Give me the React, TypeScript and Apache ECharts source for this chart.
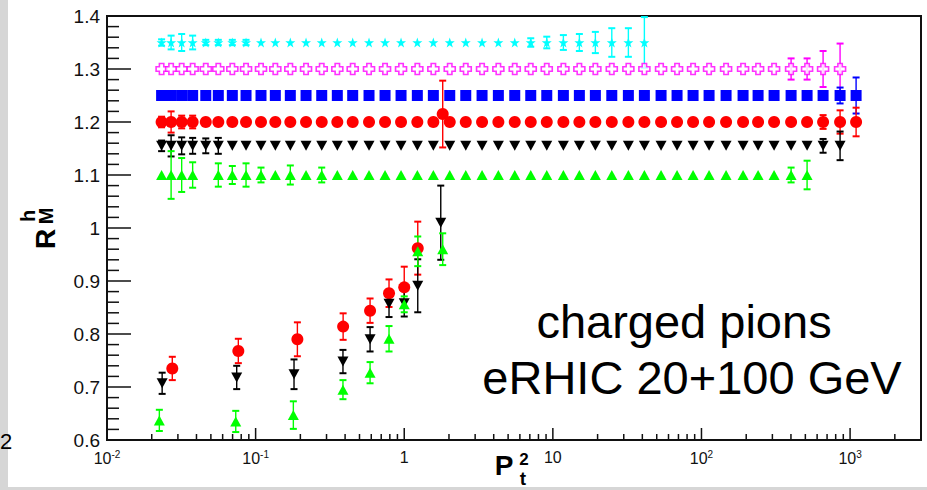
import React, { useEffect, useRef } from 'react';
import * as echarts from 'echarts';

// ---------------- data ----------------
// common P_t^2 bins of the offset (displaced) rows
const GRID_X = [
  0.0233, 0.0270, 0.0318, 0.0377, 0.0462, 0.0561, 0.0697, 0.0862, 0.1087, 0.1357,
  0.1712, 0.2184, 0.2785, 0.3546, 0.450, 0.5795, 0.7428, 0.9517, 1.225, 1.570,
  2.024, 2.594, 3.339, 4.299, 5.541, 7.10, 9.10, 11.77, 15.08, 19.32,
  24.92, 32.22, 41.29, 53.47, 68.5, 87.8, 112.5, 146.4, 190.5, 240.4,
  308.0, 400.9, 513.6, 658.1, 856.3, 1097.5,
];

// row levels (each row displaced for display)
const CYAN_LEVEL = 1.35;
const MAGENTA_LEVEL = 1.3;
const BLUE_LEVEL = 1.25;
const RED_LEVEL = 1.2;
const BLACK_LEVEL = 1.155;
const GREEN_LEVEL = 1.1;

// errors per bin (null = no point)
const CYAN_ERR = [
  0.006, 0.013, 0.016, 0.013, 0.005, 0.005, 0.005, 0.005, 0, 0,
  0, 0, 0, 0, 0, 0, 0, 0, 0, 0,
  0, 0, 0, 0, 0, 0.008, 0.011, 0.014, 0.016, 0.02,
  0.027, 0.027, 0.048, null, null, null, null, null, null, null,
  null, null, null, null, null, null,
];
const MAGENTA_ERR = [
  0, 0, 0, 0, 0, 0, 0, 0, 0, 0,
  0, 0, 0, 0, 0, 0, 0, 0, 0, 0,
  0, 0, 0, 0, 0, 0, 0, 0, 0, 0,
  0, 0, 0, 0, 0, 0, 0, 0, 0, 0,
  0, 0.02, 0.02, 0.034, 0.048, null,
];
const BLUE_ERR = [
  0, 0, 0, 0, 0, 0, 0, 0, 0, 0,
  0, 0, 0, 0, 0, 0, 0, 0, 0, 0,
  0, 0, 0, 0, 0, 0, 0, 0, 0, 0,
  0, 0, 0, 0, 0, 0, 0, 0, 0, 0,
  0, 0, 0, 0, 0.015, 0.034,
];
const RED_ERR = [
  0.01, 0.02, 0.012, 0.012, 0, 0, 0, 0, 0, 0,
  0, 0, 0, 0, 0, 0, 0, 0, 0, 0,
  0, 0, 0, 0, 0, 0, 0, 0, 0, 0,
  0, 0, 0, 0, 0, 0, 0, 0, 0, 0,
  0, 0, 0, 0.013, 0.022, 0.027,
];
const BLACK_ERR = [
  0.01, 0.02, 0.016, 0.015, 0.014, 0.015, 0, 0, 0, 0,
  0, 0, 0, 0, 0, 0, 0, 0, 0, 0,
  0, 0, 0, 0, 0, 0, 0, 0, 0, 0,
  0, 0, 0, 0, 0, 0, 0, 0, 0, 0,
  0, 0, 0, 0.013, 0.027, null,
];
const GREEN_ERR = [
  0, 0.045, 0.032, 0.024, null, 0.022, 0.017, 0.022, 0.014, 0,
  0.018, 0, 0.014, 0, 0, 0, 0, 0, 0, 0,
  0, 0, 0, 0, 0, 0, 0, 0, 0, 0,
  0, 0, 0, 0, 0, 0, 0, 0, 0, 0,
  0, 0.014, 0.027, null, null, null,
];

// un-displaced points (lower part)
const LOW_RED_X = [0.0275, 0.0765, 0.191, 0.388, 0.589, 0.79, 1.0, 1.233, 1.815];
const LOW_RED_Y = [0.735, 0.768, 0.790, 0.814, 0.844, 0.877, 0.888, 0.962, 1.215];
const LOW_RED_ERR = [0.022, 0.023, 0.032, 0.025, 0.023, 0.026, 0.039, 0.05, 0.063];
const LOW_BLACK_X = [0.0235, 0.0746, 0.1813, 0.387, 0.589, 0.79, 1.0, 1.233, 1.761];
const LOW_BLACK_Y = [0.707, 0.718, 0.724, 0.748, 0.790, 0.857, 0.858, 0.891, 1.010];
const LOW_BLACK_ERR = [0.02, 0.022, 0.028, 0.022, 0.023, 0.025, 0.025, 0.05, 0.07];
const LOW_GREEN_X = [0.0225, 0.0735, 0.1794, 0.387, 0.589, 0.79, 1.0, 1.233, 1.815];
const LOW_GREEN_Y = [0.637, 0.635, 0.647, 0.695, 0.727, 0.791, 0.856, 0.956, 0.960];
const LOW_GREEN_ERR = [0.02, 0.02, 0.026, 0.018, 0.02, 0.024, 0.015, 0.028, 0.03];

// axis
const X_MIN = 0.01;
const X_MAX = 3000;
const Y_MIN = 0.6;
const Y_MAX = 1.4;
const Y_STEP = 0.1;
const X_MAJOR_TICKS = [0.01, 0.1, 1, 10, 100, 1000];
const X_MINOR_TICKS = [
  0.02, 0.03, 0.04, 0.05, 0.06, 0.07, 0.08, 0.09,
  0.2, 0.3, 0.4, 0.5, 0.6, 0.7, 0.8, 0.9,
  2, 3, 4, 5, 6, 7, 8, 9,
  20, 30, 40, 50, 60, 70, 80, 90,
  200, 300, 400, 500, 600, 700, 800, 900,
  2000,
];
const Y_MAJOR_TICKS = [0.6, 0.7, 0.8, 0.9, 1.0, 1.1, 1.2, 1.3, 1.4];
const Y_MINOR_TICKS = [
  0.62, 0.64, 0.66, 0.68, 0.72, 0.74, 0.76, 0.78,
  0.82, 0.84, 0.86, 0.88, 0.92, 0.94, 0.96, 0.98,
  1.02, 1.04, 1.06, 1.08, 1.12, 1.14, 1.16, 1.18,
  1.22, 1.24, 1.26, 1.28, 1.32, 1.34, 1.36, 1.38,
];

const FONT = '"Liberation Sans", Arial, Helvetica, sans-serif';

const COLORS = {
  cyan: '#00ffff',
  magenta: '#ff00ff',
  blue: '#0000ff',
  red: '#ff0000',
  black: '#000000',
  green: '#00ff00',
};

const STAR = 'path://M50,0 L61.8,35.3 L97.6,35.3 L68.5,57.1 L79.4,92.7 L50,70.9 L20.6,92.7 L31.5,57.1 L2.4,35.3 L38.2,35.3 Z';
const CROSS = 'path://M3,0 L7,0 L7,3 L10,3 L10,7 L7,7 L7,10 L3,10 L3,7 L0,7 L0,3 L3,3 Z';
const TRI_DOWN = 'path://M0,0 L10,0 L5,9 Z';
const TRI_UP = 'path://M5,0 L10,9 L0,9 Z';

function rowPoints(level: number, errs: (number | null)[]) {
  const out: number[][] = [];
  GRID_X.forEach((x, i) => {
    const e = errs[i];
    if (e === null || e === undefined) return;
    out.push([x, level, e]);
  });
  return out;
}

function lowPoints(xs: number[], ys: number[], es: number[]) {
  return xs.map((x, i) => [x, ys[i], es[i]]);
}

function errSeries(data: number[][], color: string) {
  return {
    type: 'custom',
    data,
    encode: { x: 0, y: 1 },
    z: 2,
    silent: true,
    clip: true,
    renderItem: (params: any, api: any) => {
      const x = api.value(0);
      const y = api.value(1);
      const e = api.value(2);
      if (!(e > 0)) return { type: 'group', children: [] };
      const top = api.coord([x, y + e]);
      const bot = api.coord([x, y - e]);
      const cw = 3.5;
      const st = { stroke: color, lineWidth: 1.4 };
      const cs = { stroke: color, lineWidth: 2 };
      return {
        type: 'group',
        children: [
          { type: 'line', shape: { x1: top[0], y1: top[1], x2: bot[0], y2: bot[1] }, style: st },
          { type: 'line', shape: { x1: top[0] - cw, y1: top[1], x2: top[0] + cw, y2: top[1] }, style: cs },
          { type: 'line', shape: { x1: bot[0] - cw, y1: bot[1], x2: bot[0] + cw, y2: bot[1] }, style: cs },
        ],
      };
    },
  };
}

function markerSeries(data: number[][], symbol: string, size: any, color: string, extra: any = {}) {
  return {
    type: 'scatter',
    data: data.map((d) => [d[0], d[1]]),
    symbol,
    symbolSize: size,
    itemStyle: { color, opacity: 1 },
    z: 3,
    silent: true,
    ...extra,
  };
}

export default function App() {
  const ref = useRef<HTMLDivElement>(null);

  useEffect(() => {
    if (!ref.current) return;
    const chart = echarts.init(ref.current, null, { renderer: 'svg' });

    const cyan = rowPoints(CYAN_LEVEL, CYAN_ERR);
    const magenta = rowPoints(MAGENTA_LEVEL, MAGENTA_ERR);
    const blue = rowPoints(BLUE_LEVEL, BLUE_ERR);
    const red = rowPoints(RED_LEVEL, RED_ERR);
    const black = rowPoints(BLACK_LEVEL, BLACK_ERR);
    const green = rowPoints(GREEN_LEVEL, GREEN_ERR);
    const lowRed = lowPoints(LOW_RED_X, LOW_RED_Y, LOW_RED_ERR);
    const lowBlack = lowPoints(LOW_BLACK_X, LOW_BLACK_Y, LOW_BLACK_ERR);
    const lowGreen = lowPoints(LOW_GREEN_X, LOW_GREEN_Y, LOW_GREEN_ERR);

    const textGraphics: any[] = [
      {
        type: 'text',
        x: 684,
        y: 321,
        style: { text: 'charged pions', fill: '#000000', font: '47px ' + FONT, align: 'center', verticalAlign: 'middle' },
      },
      {
        type: 'text',
        x: 692,
        y: 377,
        style: { text: 'eRHIC 20+100 GeV', fill: '#000000', font: '47px ' + FONT, align: 'center', verticalAlign: 'middle' },
      },
      // x-axis title  P_t^2
      {
        type: 'text',
        x: 504,
        y: 465,
        style: { text: 'P', fill: '#000000', font: 'bold 28px ' + FONT, align: 'center', verticalAlign: 'middle' },
      },
      {
        type: 'text',
        x: 524,
        y: 459,
        style: { text: '2', fill: '#000000', font: 'bold 17px ' + FONT, align: 'center', verticalAlign: 'middle' },
      },
      {
        type: 'text',
        x: 523,
        y: 478,
        style: { text: 't', fill: '#000000', font: 'bold 19px ' + FONT, align: 'center', verticalAlign: 'middle' },
      },
      // y-axis title  R_M^h (rotated)
      {
        type: 'text',
        x: 45,
        y: 239,
        rotation: Math.PI / 2,
        style: { text: 'R', fill: '#000000', font: 'bold 28px ' + FONT, align: 'center', verticalAlign: 'middle' },
      },
      {
        type: 'text',
        x: 28,
        y: 216,
        rotation: Math.PI / 2,
        style: { text: 'h', fill: '#000000', font: 'bold 20px ' + FONT, align: 'center', verticalAlign: 'middle' },
      },
      {
        type: 'text',
        x: 46,
        y: 216,
        rotation: Math.PI / 2,
        style: { text: 'M', fill: '#000000', font: 'bold 20px ' + FONT, align: 'center', verticalAlign: 'middle' },
      },
      // stray glyph at the slide edge
      {
        type: 'text',
        x: 0,
        y: 441,
        style: { text: '2', fill: '#000000', font: '22px ' + FONT, align: 'left', verticalAlign: 'middle' },
      },
    ];

    const option: any = {
      animation: false,
      backgroundColor: 'transparent',
      grid: {
        left: 107,
        right: 6,
        top: 16,
        bottom: 50,
        show: true,
        backgroundColor: 'transparent',
        borderColor: '#111111',
        borderWidth: 2,
      },
      xAxis: {
        type: 'log',
        logBase: 10,
        min: X_MIN,
        max: X_MAX,
        axisLine: { show: true, onZero: false, lineStyle: { color: '#111111', width: 2 } },
        axisTick: { show: false },
        minorTick: { show: false },
        splitLine: { show: false },
        axisLabel: {
          show: true,
          margin: 9,
          showMinLabel: true,
          showMaxLabel: false,
          color: '#111111',
          fontFamily: FONT,
          fontSize: 16,
          formatter: (v: number) => {
            const e = Math.round(Math.log10(v));
            if (e === 0) return '1';
            if (e === 1) return '10';
            return '{b|10}{s|' + e + '}';
          },
          rich: {
            b: { fontFamily: FONT, fontSize: 16, color: '#111111' },
            s: { fontFamily: FONT, fontSize: 10, color: '#111111', padding: [0, 0, 9, 0] },
          },
        },
      },
      yAxis: {
        type: 'value',
        min: Y_MIN,
        max: Y_MAX,
        interval: Y_STEP,
        axisLine: { show: true, onZero: false, lineStyle: { color: '#111111', width: 2 } },
        axisTick: { show: false },
        minorTick: { show: false },
        splitLine: { show: false },
        axisLabel: {
          margin: 7,
          color: '#111111',
          fontFamily: FONT,
          fontSize: 19,
        },
      },
      series: [
        errSeries(cyan, COLORS.cyan),
        markerSeries(cyan, STAR, 10, COLORS.cyan),
        errSeries(magenta, COLORS.magenta),
        markerSeries(magenta, CROSS, 11, '#ffffff', {
          itemStyle: { color: '#ffffff', borderColor: COLORS.magenta, borderWidth: 1.6 },
        }),
        errSeries(blue, COLORS.blue),
        markerSeries(blue, 'rect', 11, COLORS.blue),
        errSeries(red, COLORS.red),
        markerSeries(red, 'circle', 12, COLORS.red),
        errSeries(black, COLORS.black),
        markerSeries(black, TRI_DOWN, [11, 10], COLORS.black),
        errSeries(green, COLORS.green),
        markerSeries(green, TRI_UP, [11, 10], COLORS.green),
        errSeries(lowRed, COLORS.red),
        markerSeries(lowRed, 'circle', 12, COLORS.red),
        errSeries(lowBlack, COLORS.black),
        markerSeries(lowBlack, TRI_DOWN, [11, 10], COLORS.black),
        errSeries(lowGreen, COLORS.green),
        markerSeries(lowGreen, TRI_UP, [11, 10], COLORS.green),
      ],
      graphic: textGraphics,
    };

    chart.setOption(option);

    // tick marks, placed through the chart's own axis scales
    const tickLines: any[] = [];
    const addX = (v: number, len: number) => {
      const p = chart.convertToPixel({ gridIndex: 0 }, [v, Y_MIN]) as number[];
      if (!p || !isFinite(p[0]) || !isFinite(p[1])) return;
      tickLines.push({
        type: 'line',
        z: 100,
        shape: { x1: p[0], y1: p[1], x2: p[0], y2: p[1] - len },
        style: { stroke: '#111111', lineWidth: 1.5 },
        silent: true,
      });
    };
    const addY = (v: number, len: number) => {
      const p = chart.convertToPixel({ gridIndex: 0 }, [X_MIN, v]) as number[];
      if (!p || !isFinite(p[0]) || !isFinite(p[1])) return;
      tickLines.push({
        type: 'line',
        z: 100,
        shape: { x1: p[0], y1: p[1], x2: p[0] + len, y2: p[1] },
        style: { stroke: '#111111', lineWidth: 1.5 },
        silent: true,
      });
    };
    X_MAJOR_TICKS.forEach((v) => addX(v, 12));
    X_MINOR_TICKS.forEach((v) => addX(v, 6));
    Y_MAJOR_TICKS.forEach((v) => addY(v, 24));
    Y_MINOR_TICKS.forEach((v) => addY(v, 12));

    chart.setOption({ graphic: textGraphics.concat(tickLines) });

    return () => {
      chart.dispose();
    };
  }, []);

  return (
    <div style={{ position: 'fixed', left: 0, top: 0, width: 927, height: 490, background: '#d6d6d6', overflow: 'hidden' }}>
      <div style={{ position: 'absolute', left: 8, top: 0, width: 919, height: 487, background: '#ffffff' }} />
      <div ref={ref} style={{ position: 'absolute', left: 0, top: 0, width: 927, height: 490 }} />
    </div>
  );
}
